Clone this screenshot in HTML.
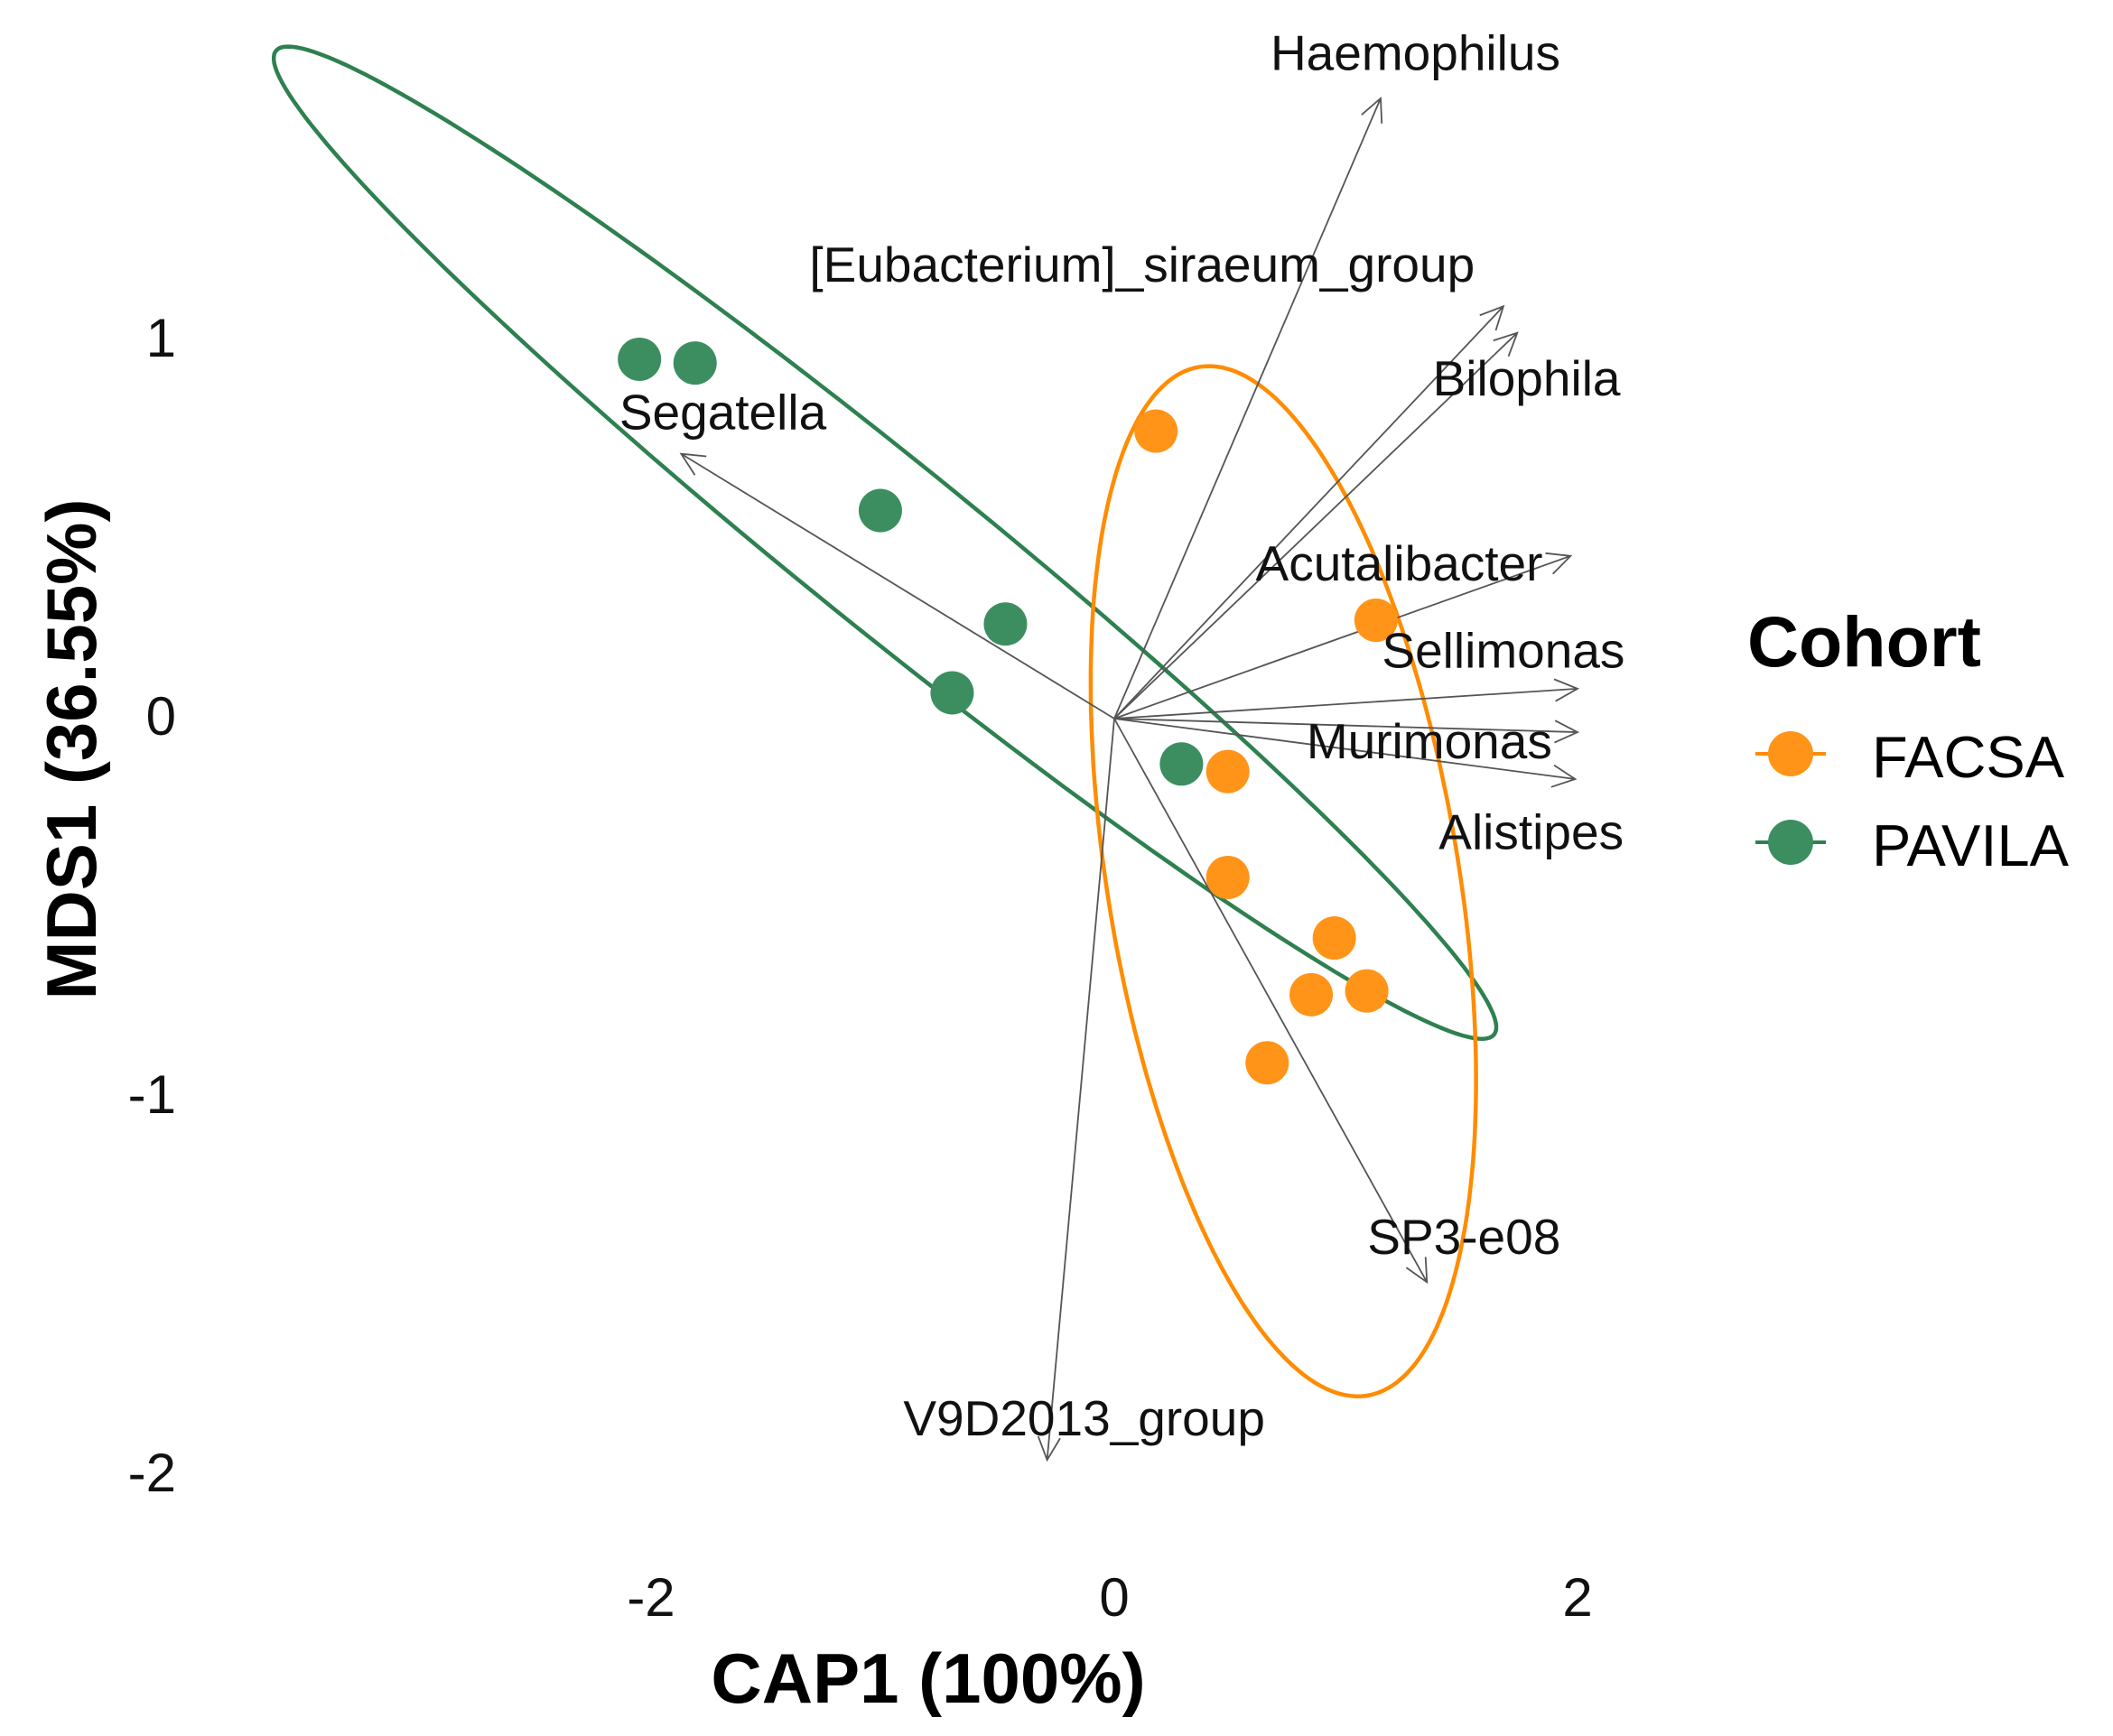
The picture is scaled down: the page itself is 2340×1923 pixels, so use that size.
<!DOCTYPE html>
<html><head><meta charset="utf-8"><style>
html,body{margin:0;padding:0;background:#fff;}
svg{display:block;font-family:"Liberation Sans",Arial,sans-serif;}
</style></head><body>
<svg id="chart" width="2340" height="1923" viewBox="0 0 2340 1923">
<g id="ellipses"></g>
<g id="arrows"></g>
<g id="points"></g>
<g id="labels"></g>
<g id="axes"></g>
<text x="1028" y="1886" font-size="78" font-weight="bold" text-anchor="middle">CAP1 (100%)</text>
<text transform="translate(106,830) rotate(-90)" font-size="78" font-weight="bold" text-anchor="middle">MDS1 (36.55%)</text>
<g>
<text x="1935" y="738" font-size="79" font-weight="bold">Cohort</text>
<g>
<line x1="1944" y1="835" x2="2022" y2="835" stroke="#FF8C00" stroke-width="4"/>
<circle cx="1983" cy="835" r="25" fill="#FF9418"/>
<text x="2073" y="861" font-size="65">FACSA</text></g>
<g>
<line x1="1944" y1="933" x2="2022" y2="933" stroke="#2E8050" stroke-width="4"/>
<circle cx="1983" cy="933" r="25" fill="#3C8E60"/>
<text x="2073" y="959" font-size="65">PAVILA</text></g>
</g>
</svg>
<script>
const xTicks=[-2,0,2];
const yTicks=[-2,-1,0,1];
const facsaX=[0.18,1.13,0.49,0.49,0.95,1.09,0.85,0.66];
const facsaY=[0.76,0.26,-0.14,-0.42,-0.58,-0.72,-0.73,-0.91];
const pavilaX=[-2.05,-1.81,-1.01,-0.47,-0.70,0.29];
const pavilaY=[0.95,0.94,0.55,0.25,0.068,-0.12];
const speciesNames=["Haemophilus","[Eubacterium]_siraeum_group","Bilophila","Acutalibacter","Sellimonas","Murimonas","Alistipes","SP3-e08","V9D2013_group","Segatella"];
const arrowX=[1.15,1.68,1.74,1.97,2.0,2.0,1.99,1.35,-0.29,-1.87];
const arrowY=[1.64,1.09,1.02,0.43,0.079,-0.036,-0.16,-1.49,-1.96,0.70];
const labelX=[1.30,0.12,1.78,1.23,1.68,1.36,1.80,1.51,-0.13,-1.69];
const labelY=[1.76,1.20,0.90,0.41,0.18,-0.06,-0.30,-1.37,-1.85,0.81];
const greenEll={cx:-0.99,cy:0.465,ux:2.63,uy:-1.30,vx:-0.22,vy:-0.175};
const orangeEll={cx:0.73,cy:-0.43,ux:0.36,uy:-1.36,vx:-0.75,vy:-0.07};

const NS="http://www.w3.org/2000/svg";
function X(v){return 1234+256.5*v;}
function Y(v){return 796-419*v;}
function mk(tag,attrs,parent){const e=document.createElementNS(NS,tag);for(const k in attrs)e.setAttribute(k,attrs[k]);parent.appendChild(e);return e;}

const gE=document.getElementById('ellipses');
function ellipse(p,color,name){
  let d="";
  for(let i=0;i<=200;i++){const t=i/200*2*Math.PI;
    const x=p.cx+Math.cos(t)*p.ux+Math.sin(t)*p.vx;
    const y=p.cy+Math.cos(t)*p.uy+Math.sin(t)*p.vy;
    d+=(i?"L":"M")+X(x).toFixed(1)+","+Y(y).toFixed(1);}
  const e=mk('path',{d:d+"Z",fill:"none",stroke:color,"stroke-width":4.5},gE);
  
  
}
ellipse(greenEll,"#2E8050","ellipse-pavila");
ellipse(orangeEll,"#FF8C00","ellipse-facsa");

const gA=document.getElementById('arrows');
const gL=document.getElementById('labels');
for(let i=0;i<speciesNames.length;i++){
  const x0=X(0),y0=Y(0),x1=X(arrowX[i]),y1=Y(arrowY[i]);
  const ang=Math.atan2(y1-y0,x1-x0),h=28,sp=0.45;
  const d=`M${x0},${y0}L${x1},${y1}M${x1-h*Math.cos(ang-sp)},${y1-h*Math.sin(ang-sp)}L${x1},${y1}L${x1-h*Math.cos(ang+sp)},${y1-h*Math.sin(ang+sp)}`;
  const a=mk('path',{d:d,fill:"none",stroke:"#555","stroke-width":1.8},gA);
  
  
  const t=mk('text',{x:X(labelX[i]),y:Y(labelY[i])+19,"font-size":55,"text-anchor":"middle",fill:"#111"},gL);
  t.textContent=speciesNames[i];
  
  
}

const gP=document.getElementById('points');
function pts(xs,ys,color,name){
  for(let i=0;i<xs.length;i++){
    const c=mk('circle',{cx:X(xs[i]),cy:Y(ys[i]),r:24,fill:color},gP);
    
    
  }
}
pts(pavilaX,pavilaY,"#3C8E60","pavila");
pts(facsaX,facsaY,"#FF9418","facsa");

const gX=document.getElementById('axes');
xTicks.forEach(v=>{
  const t=mk('text',{x:X(v),y:1790,"font-size":60,"text-anchor":"middle",fill:"#111"},gX);
  t.textContent=v<0?"-"+Math.abs(v):String(v);
  
  
});
yTicks.forEach(v=>{
  const t=mk('text',{x:195,y:Y(v)+18,"font-size":60,"text-anchor":"end",fill:"#111"},gX);
  t.textContent=v<0?"-"+Math.abs(v):String(v);
  
  
});
</script>
</body></html>
